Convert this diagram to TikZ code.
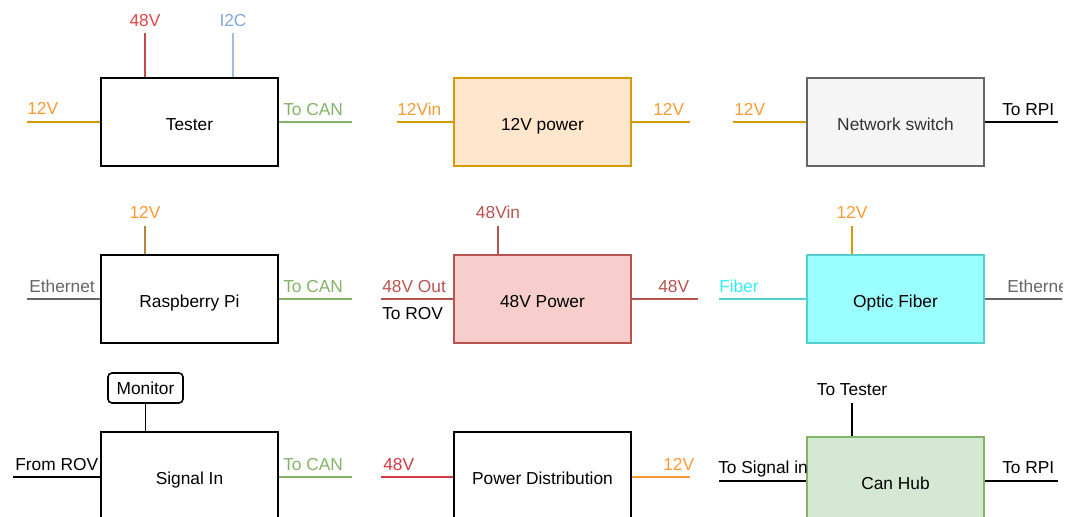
\documentclass[tikz,border=0pt]{standalone}
\usepackage{fontspec}
\setmainfont{Liberation Sans}
\definecolor{orL}{HTML}{D79B00}
\definecolor{orT}{HTML}{FF9933}
\definecolor{grn}{HTML}{82B366}
\definecolor{redL}{HTML}{C04A4A}
\definecolor{redT}{HTML}{EA4444}
\definecolor{redPD}{HTML}{D33A44}
\definecolor{bluL}{HTML}{A0BDE6}
\definecolor{bluT}{HTML}{7EA6E0}
\definecolor{brn}{HTML}{B5873A}
\definecolor{gry}{HTML}{666666}
\definecolor{txtG}{HTML}{333333}
\definecolor{rose}{HTML}{B85450}
\definecolor{roseF}{HTML}{F8CECC}
\definecolor{peach}{HTML}{FFE6CC}
\definecolor{lgray}{HTML}{F5F5F5}
\definecolor{cyF}{HTML}{9CFFFF}
\definecolor{cyL}{HTML}{55D0D0}
\definecolor{cyT}{HTML}{33F0F0}
\definecolor{mint}{HTML}{D5E8D4}
\begin{document}
\begin{tikzpicture}[x=0.75pt,y=-0.75pt,
  font=\fontsize{13}{15}\selectfont,
  blk/.style={draw, line width=1.2pt, minimum width=132.75pt, minimum height=66pt, inner sep=0pt, text height=12.3pt, text depth=0pt},
  lbl/.style={inner sep=0pt, anchor=base west},
  tlbl/.style={inner sep=0pt, anchor=base},
  wire/.style={line width=1.3pt}]
\clip (0,0) rectangle (1078,517);

% ---------- Row 1 ----------
\node[blk] (tester) at (189.5,122) {Tester};
\coordinate (tL) at (27,122);
\coordinate (tR) at (352,122);
\coordinate (t48) at (145,33);
\coordinate (tI2C) at (233,33);
\draw[wire, orL] (tL) -- (tester.west);
\draw[wire, grn] (tester.east) -- (tR);
\draw[wire, redL] (t48) -- (t48 |- tester.north);
\draw[wire, bluL] (tI2C) -- (tI2C |- tester.north);
\node[lbl, text=orT] (tLl) at (27,114) {12V};
\node[lbl, text=grn] (tRl) at (283,115) {To CAN};
\node[tlbl, text=redT] (t48l) at (145,27) {48V};
\node[tlbl, text=bluT] (tI2Cl) at (233,27) {I2C};

\node[blk, draw=orL, fill=peach] (pw12) at (542.5,122) {12V power};
\coordinate (pL) at (397,122);
\coordinate (pR) at (690,122);
\draw[wire, orL] (pL) -- (pw12.west);
\draw[wire, orL] (pw12.east) -- (pR);
\node[lbl, text=orT] (pLl) at (397,115) {12Vin};
\node[lbl, text=orT] (pRl) at (653,115) {12V};

\node[blk, draw=gry, fill=lgray, text=txtG] (nsw) at (895.5,122) {Network switch};
\coordinate (nL) at (733,122);
\coordinate (nR) at (1058,122);
\draw[wire, orL] (nL) -- (nsw.west);
\draw[wire, black] (nsw.east) -- (nR);
\node[lbl, text=orT] (nLl) at (734,116) {12V};
\node[lbl] (nRl) at (1002,116) {To RPI};

% ---------- Row 2 ----------
\node[blk] (rpi) at (189.5,299) {Raspberry Pi};
\coordinate (rL) at (27,299);
\coordinate (rR) at (352,299);
\coordinate (rT) at (145,226);
\draw[wire, gry] (rL) -- (rpi.west);
\draw[wire, grn] (rpi.east) -- (rR);
\draw[wire, brn] (rT) -- (rT |- rpi.north);
\node[lbl, text=gry] (rLl) at (29,292) {Ethernet};
\node[lbl, text=grn] (rRl) at (283,292) {To CAN};
\node[tlbl, text=orT] (rTl) at (145,218) {12V};

\node[blk, draw=rose, fill=roseF] (pw48) at (542.5,299) {48V Power};
\coordinate (fL) at (381,299);
\coordinate (fR) at (698,299);
\coordinate (fT) at (498,226);
\draw[wire, rose] (fL) -- (pw48.west);
\draw[wire, rose] (pw48.east) -- (fR);
\draw[wire, rose] (fT) -- (fT |- pw48.north);
\node[lbl, text=rose] (fLl) at (382,292) {48V Out};
\node[lbl] (fLl2) at (382,319) {To ROV};
\node[lbl, text=rose] (fRl) at (658,292) {48V};
\node[tlbl, text=rose] (fTl) at (498,218) {48Vin};

\node[blk, draw=cyL, fill=cyF] (opt) at (895.5,299) {Optic Fiber};
\coordinate (oL) at (719,299);
\coordinate (oR) at (1070,299);
\coordinate (oT) at (852,226);
\draw[wire, cyL] (oL) -- (opt.west);
\draw[wire, orL] (oT) -- (oT |- opt.north);
\node[lbl, text=cyT] (oLl) at (719,292) {Fiber};
\node[tlbl, text=orT] (oTl) at (852,218) {12V};
\begin{scope}
  \clip (978,250) rectangle (1062,320);
  \draw[wire, gry] (opt.east) -- (oR);
  \node[lbl, text=gry] (oRl) at (1007,292) {Ethernet};
\end{scope}

% ---------- Row 3 ----------
\node[blk] (sig) at (189.5,476) {Signal In};
\node[draw, line width=1.2pt, rounded corners=3pt, minimum width=56.25pt, minimum height=22.5pt, inner sep=0pt] (mon) at (145.5,388) {Monitor};
\coordinate (sL) at (13,477);
\coordinate (sR) at (352,477);
\draw[wire] (mon.south) -- (mon.south |- sig.north);
\draw[wire] (sL) -- (sig.west |- sL);
\draw[wire, grn] (sig.east |- sR) -- (sR);
\node[lbl] (sLl) at (15,470) {From ROV};
\node[lbl, text=grn] (sRl) at (283,470) {To CAN};

\node[blk] (pd) at (542.5,476) {Power Distribution};
\coordinate (dL) at (381,477);
\coordinate (dR) at (690,477);
\draw[wire, redPD] (dL) -- (pd.west |- dL);
\draw[wire, orT] (pd.east |- dR) -- (dR);
\node[lbl, text=redPD] (dLl) at (383,470) {48V};
\node[lbl, text=orT] (dRl) at (663,470) {12V};

\node[blk, draw=grn, fill=mint] (hub) at (895.5,481) {Can Hub};
\coordinate (hL) at (719,481);
\coordinate (hR) at (1058,481);
\coordinate (hT) at (852,403);
\draw[wire] (hL) -- (hub.west);
\draw[wire] (hub.east) -- (hR);
\draw[wire] (hT) -- (hT |- hub.north);
\node[lbl] (hLl) at (718,473) {To Signal in};
\node[lbl] (hRl) at (1002,473) {To RPI};
\node[tlbl] (hTl) at (852,395) {To Tester};
\end{tikzpicture}
\end{document}
